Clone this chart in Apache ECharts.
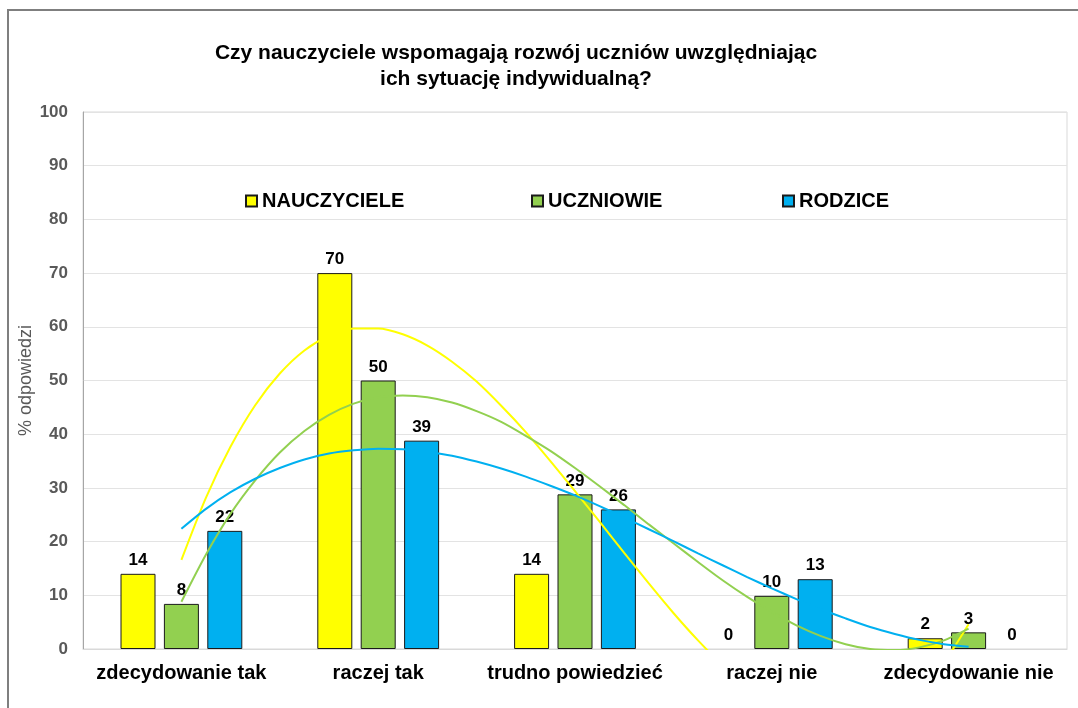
<!DOCTYPE html>
<html>
<head>
<meta charset="utf-8">
<script src="https://cdn.jsdelivr.net/npm/echarts@6/dist/echarts.min.js"></script>
<style>
  html, body { margin: 0; padding: 0; background: #fff; }
  #chart { width: 1078px; height: 708px; }
</style>
</head>
<body>
<div id="chart"></div>
<script>
// categories and answers (% of responses)
const categories = ['zdecydowanie tak', 'raczej tak', 'trudno powiedzieć', 'raczej nie', 'zdecydowanie nie'];
const nauczyciele = [14, 70, 14, 0, 2];
const uczniowie = [8.4, 50, 28.8, 9.9, 3.1];
const rodzice = [22, 38.8, 26, 13, 0];

const trendX = [1, 1.125, 1.25, 1.375, 1.5, 1.625, 1.75, 1.875, 2, 2.125, 2.25, 2.375, 2.5, 2.625, 2.75, 2.875,
  3, 3.125, 3.25, 3.375, 3.5, 3.625, 3.75, 3.875, 4, 4.125, 4.25, 4.375, 4.5, 4.625, 4.75, 4.875, 5];
const trendNauczyciele = [16.6, 28.2, 37.7, 45.4, 51.3, 55.6, 58.3, 59.7, 59.7, 58.6, 56.5, 53.5, 49.8, 45.3, 40.4, 35.0,
  29.4, 23.7, 17.9, 12.2, 6.7, 1.6, -3.0, -7.0, -10.3, -12.7, -14.2, -14.5, -13.7, -11.5, -7.8, -2.5, 4.6];
const trendUczniowie = [8.8, 17.6, 25.2, 31.4, 36.6, 40.6, 43.6, 45.7, 46.9, 47.2, 46.9, 45.9, 44.3, 42.3, 39.7, 36.9,
  33.7, 30.3, 26.8, 23.2, 19.7, 16.2, 12.8, 9.7, 6.9, 4.4, 2.4, 0.9, 0.0, -0.2, 0.3, 1.6, 3.8];
const trendRodzice = [22.4, 26.1, 29.2, 31.7, 33.7, 35.3, 36.4, 37.0, 37.3, 37.2, 36.7, 36.0, 34.9, 33.6, 32.1, 30.4,
  28.6, 26.6, 24.5, 22.3, 20.1, 17.8, 15.6, 13.4, 11.3, 9.3, 7.4, 5.7, 4.1, 2.8, 1.7, 0.9, 0.4];

const yTicks = { min: 0, max: 100, interval: 10 };

const colors = { n: '#FFFF00', u: '#92D050', r: '#00B0F0' };
const FONT = 'Liberation Sans';

function barSeries(name, data, color) {
  return {
    name, type: 'bar', barWidth: 35, barGap: '24%',
    // a zero bar has no outline in the original
    data: data.map(v => v === 0 ? { value: v, itemStyle: { borderWidth: 0 } } : v),
    itemStyle: { color, borderColor: '#1a1a1a', borderWidth: 1 },
    label: {
      show: true, position: 'top', distance: 5,
      formatter: p => Math.round(p.value),
      fontFamily: FONT, fontWeight: 'bold', fontSize: 17, color: '#000'
    },
    z: 2
  };
}
function trendSeries(name, ys, color) {
  return {
    name, type: 'line', xAxisIndex: 1, smooth: 0.25, symbol: 'none', silent: true,
    data: trendX.map((x, i) => [x, ys[i]]),
    lineStyle: { color, width: 2 }, clip: true, z: 5
  };
}

const legendText = { fontFamily: FONT, fontWeight: 'bold', fontSize: 20, color: '#000' };
function legendAt(name, left) {
  return { data: [name], left, top: 186, itemWidth: 11, itemHeight: 11, itemGap: 4, icon: 'rect', textStyle: legendText, selectedMode: false };
}

const chart = echarts.init(document.getElementById('chart'));
chart.setOption({
  animation: false,
  backgroundColor: '#fff',
  title: {
    text: 'Czy nauczyciele wspomagają rozwój uczniów uwzględniając\nich sytuację indywidualną?',
    left: 511, top: 35, textAlign: 'center',
    textStyle: { fontFamily: FONT, fontWeight: 'bold', fontSize: 21, lineHeight: 26, color: '#000' }
  },
  graphic: [{
    type: 'rect', shape: { x: 8, y: 10, width: 1200, height: 900 },
    style: { fill: 'none', stroke: '#7f7f7f', lineWidth: 2 }, silent: true, z: -10
  }],
  legend: [legendAt('NAUCZYCIELE', 240), legendAt('UCZNIOWIE', 526), legendAt('RODZICE', 777)],
  grid: { left: 83, right: 11, top: 112, bottom: 59, show: true, borderColor: '#D9D9D9', borderWidth: 1 },
  xAxis: [{
    type: 'category', data: categories,
    axisLine: { lineStyle: { color: '#D9D9D9' } }, axisTick: { show: false },
    axisLabel: { margin: 14, fontFamily: FONT, fontWeight: 'bold', fontSize: 20, color: '#000', interval: 0 }
  }, {
    type: 'value', min: 0.5, max: 5.5, show: false
  }],
  yAxis: {
    type: 'value', min: yTicks.min, max: yTicks.max, interval: yTicks.interval,
    name: '% odpowiedzi', nameLocation: 'middle', nameGap: 48, nameRotate: 90, nameMoveOverlap: false,
    nameTextStyle: { fontFamily: FONT, fontSize: 18, color: '#595959' },
    axisLine: { show: true, lineStyle: { color: '#A6A6A6' } }, axisTick: { show: false },
    axisLabel: { margin: 15, fontFamily: FONT, fontWeight: 'bold', fontSize: 17, color: '#595959' },
    splitLine: { lineStyle: { color: '#E3E3E3' } }
  },
  series: [
    barSeries('NAUCZYCIELE', nauczyciele, colors.n),
    barSeries('UCZNIOWIE', uczniowie, colors.u),
    barSeries('RODZICE', rodzice, colors.r),
    trendSeries('trend NAUCZYCIELE', trendNauczyciele, colors.n),
    trendSeries('trend UCZNIOWIE', trendUczniowie, colors.u),
    trendSeries('trend RODZICE', trendRodzice, colors.r)
  ]
});
window.addEventListener('resize', () => chart.resize());
</script>
</body>
</html>
